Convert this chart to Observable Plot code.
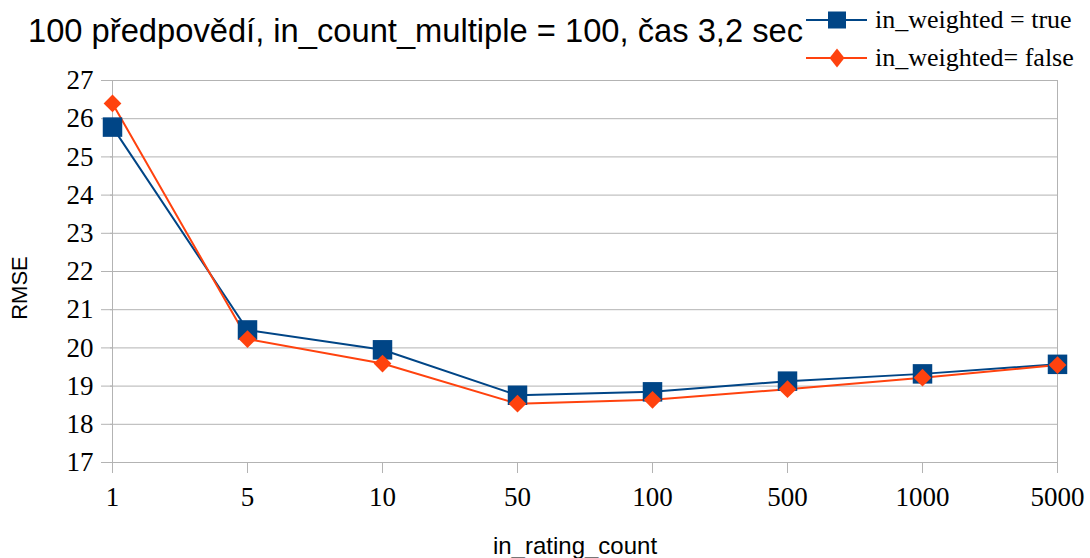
<!DOCTYPE html>
<html><head><meta charset="utf-8">
<script src="https://cdn.jsdelivr.net/npm/d3@7"></script>
<script src="https://cdn.jsdelivr.net/npm/@observablehq/plot@0.6"></script>
<style>
body{margin:0;background:#fff;}
#wrap{position:relative;width:1090px;height:558px;overflow:hidden;}
#head{position:relative;height:68px;}
#title{position:absolute;left:28px;top:15px;font-family:"Liberation Sans",Arial,sans-serif;font-size:32.7px;line-height:1;white-space:nowrap;color:#000;}
.leg{position:absolute;left:806px;height:30px;display:flex;align-items:center;font-family:"Liberation Serif",serif;font-size:26px;line-height:30px;white-space:nowrap;color:#000;}
.leg svg{margin-right:8px;display:block;}
#ylab{position:absolute;left:20px;top:288px;width:0;height:0;}
#ylab span{position:absolute;left:0;top:0;transform:translate(-50%,-50%) rotate(-90deg);font-family:"Liberation Sans",Arial,sans-serif;font-size:22px;line-height:1;white-space:nowrap;color:#000;}
#xlab{position:absolute;left:575px;top:546px;width:0;height:0;}
#xlab span{position:absolute;left:0;top:0;transform:translate(-50%,-50%);font-family:"Liberation Sans",Arial,sans-serif;font-size:24px;line-height:1;white-space:nowrap;color:#000;}
#chart text{font-family:"Liberation Serif",serif !important;}
</style></head>
<body><div id="wrap">
<div id="head">
  <div id="title">100 předpovědí, in_count_multiple = 100, čas 3,2 sec</div>
  <div class="leg" id="leg1" style="top:5px"></div>
  <div class="leg" id="leg2" style="top:43px"></div>
</div>
<div id="chart"></div>
<div id="ylab"><span>RMSE</span></div>
<div id="xlab"><span>in_rating_count</span></div>
</div>
<script>
const categories = ["1","5","10","50","100","500","1000","5000"];
const weightedTrue = [25.78, 20.47, 19.95, 18.76, 18.85, 19.13, 19.32, 19.57];
const weightedFalse = [26.40, 20.23, 19.59, 18.54, 18.64, 18.92, 19.22, 19.55];
const seriesNames = ["in_weighted = true", "in_weighted= false"];
const seriesColors = ["#004586", "#ff420e"];
const yTicks = [17,18,19,20,21,22,23,24,25,26,27];

const tRows = categories.map((c,i)=>({cat:c, v:weightedTrue[i]}));
const fRows = categories.map((c,i)=>({cat:c, v:weightedFalse[i]}));

// legend swatches
function swatch(color, kind){
  const ns="http://www.w3.org/2000/svg";
  const svg=document.createElementNS(ns,"svg");
  svg.setAttribute("width",61);svg.setAttribute("height",24);
  const l=document.createElementNS(ns,"line");
  l.setAttribute("x1",0);l.setAttribute("x2",61);l.setAttribute("y1",12);l.setAttribute("y2",12);
  l.setAttribute("stroke",color);l.setAttribute("stroke-width",2);
  svg.appendChild(l);
  const p=document.createElementNS(ns,"path");
  p.setAttribute("d", kind==="square" ? "M-9,-8.5H9V8.5H-9Z" : "M0,-9.5L7.5,0L0,9.5L-7.5,0Z");
  p.setAttribute("transform","translate(31,12)");
  p.setAttribute("fill",color);
  svg.appendChild(p);
  return svg;
}
const l1=document.getElementById("leg1"), l2=document.getElementById("leg2");
l1.appendChild(swatch(seriesColors[0], "square")); l1.appendChild(document.createTextNode(seriesNames[0]));
l2.appendChild(swatch(seriesColors[1], "diamond")); l2.appendChild(document.createTextNode(seriesNames[1]));

const serif = "Liberation Serif";
const firstCat = categories[0], lastCat = categories[categories.length-1];
const chart = Plot.plot({
  width:1090, height:490,
  marginLeft:110, marginRight:32, marginTop:12, marginBottom:96,
  style:{fontSize:"27px", color:"#000", background:"#fff", overflow:"visible"},
  x:{type:"point", domain:categories, padding:0, label:null, axis:null},
  y:{domain:[17,27], label:null, axis:null},
  marks:[
    Plot.gridY(yTicks, {stroke:"#b3b3b3", strokeOpacity:1, strokeWidth:1}),
    Plot.ruleX([firstCat, lastCat], {x:d=>d, stroke:"#b3b3b3", strokeWidth:1}),
    // tick marks
    Plot.ruleY(yTicks, {y:d=>d, x1:()=>firstCat, x2:()=>firstCat, stroke:"#b3b3b3", insetLeft:-11}),
    Plot.ruleX(categories, {x:d=>d, y1:17, y2:17, stroke:"#b3b3b3", insetBottom:-11}),
    // tick labels
    Plot.text(yTicks, {x:()=>firstCat, y:d=>d, text:d=>String(d), textAnchor:"end", dx:-19, fontSize:27, fontFamily:serif, fill:"#000"}),
    Plot.text(categories, {x:d=>d, y:17, text:d=>d, lineAnchor:"top", dy:24, fontSize:27, fontFamily:serif, fill:"#000"}),
    Plot.line(tRows, {x:"cat", y:"v", stroke:seriesColors[0], strokeWidth:2}),
    Plot.line(fRows, {x:"cat", y:"v", stroke:seriesColors[1], strokeWidth:2}),
    Plot.dot(tRows, {x:"cat", y:"v", symbol:"square", r:11, fill:seriesColors[0], stroke:null}),
    Plot.dot(fRows, {x:"cat", y:"v", symbol:"diamond2", r:8, fill:seriesColors[1], stroke:null})
  ]
});
chart.setAttribute("font-family", serif);
chart.querySelectorAll("text").forEach(t=>{ t.setAttribute("font-family", serif); t.removeAttribute("font-variant"); });
document.getElementById("chart").appendChild(chart);
</script>
</body></html>
